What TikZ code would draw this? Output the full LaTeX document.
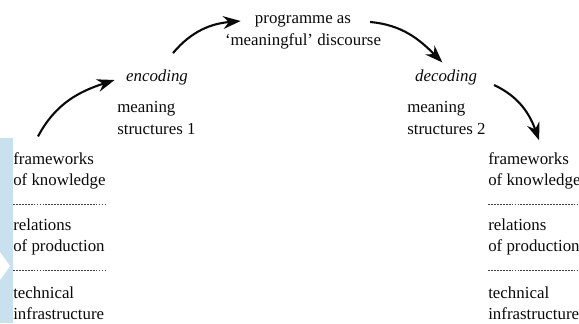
\documentclass[tikz,border=0pt]{standalone}
\usepackage{fontspec}
\setmainfont{Liberation Serif}
\usepackage{xcolor}
\usepackage{tikz}
\usetikzlibrary{calc, positioning, arrows.meta}
\definecolor{InkBlack}{HTML}{0A0A0A}
\definecolor{RuleGray}{HTML}{404040}
\definecolor{WashBlue}{HTML}{C9E1EE}

\begin{document}
\begin{tikzpicture}[
        label/.style={inner sep=0pt, align=left, anchor=west, text=InkBlack,
                    font=\fontsize{12pt}{15pt}\selectfont},
        phase/.style={inner sep=0pt, text=InkBlack,
                    font=\fontsize{12pt}{15pt}\selectfont\itshape},
        rule/.style={RuleGray, line width=0.45pt, dash pattern=on 1.3pt off 0.8pt},
        flow/.style={-{Stealth[length=4.4mm, width=3.2mm]}, InkBlack, line width=1.5pt}]

        \useasboundingbox (0,0) rectangle (14.475,-8.075);

        % Scan wash at the left edge
        \fill[WashBlue] (0,-3.45) rectangle (0.33,-8.075);
        \fill[white] (0,-6.3) -- (0.25,-6.65) -- (0,-7.0) -- cycle;

        % Middle labels
        \node[phase] (enc) at (3.925,-1.925) {encoding};
        \node[label] (ms1) at (2.925,-2.95)  {meaning\\structures 1};
        \node[inner sep=0pt, align=center, text=InkBlack,
              font=\fontsize{12pt}{16pt}\selectfont]
              (prog) at (7.575,-0.8) {programme as\\`meaningful' discourse};
        \node[phase] (dec) at (11.15,-1.925) {decoding};
        \node[label] (ms2) at (10.175,-2.95) {meaning\\structures 2};

        % Left stack
        \node[label] (fkL) at (0.325,-4.275) {frameworks\\of knowledge};
        \node[label] (rpL) at (0.325,-5.925) {relations\\of production};
        \node[label] (tiL) at (0.325,-7.5875) {technical\\infrastructure};
        \draw[rule] ($(fkL.west)!0.5!(rpL.west)$) -- +(2.35,0);
        \draw[rule] ($(rpL.west)!0.5!(tiL.west)$) -- +(2.35,0);

        % Right stack
        \node[label] (fkR) at (12.2,-4.275) {frameworks\\of knowledge};
        \node[label] (rpR) at (12.2,-5.925) {relations\\of production};
        \node[label] (tiR) at (12.2,-7.5875) {technical\\infrastructure};
        \draw[rule] ($(fkR.west)!0.5!(rpR.west)$) -- +(2.5,0);
        \draw[rule] ($(rpR.west)!0.5!(tiR.west)$) -- +(2.5,0);

        % Arrows
        \draw[flow] ([shift={(0.625,0.4)}]fkL.north west) to[out=62, in=198]
                    ([shift={(-0.28,-0.075)}]enc.west);
        \draw[flow] ([shift={(0.4,0.4)}]enc.north) to[out=50, in=185]
                    ([shift={(0.4,0.275)}]prog.west);
        \draw[flow] ([shift={(-0.28,0.25)}]prog.east) to[out=-5, in=135]
                    ([shift={(-0.09,0.165)}]dec.north);
        \draw[flow] ([shift={(0.42,-0.2)}]dec.east) to[out=-25, in=110]
                    ([shift={(0.12,0.3)}]fkR.north);
      \end{tikzpicture}
\end{document}
